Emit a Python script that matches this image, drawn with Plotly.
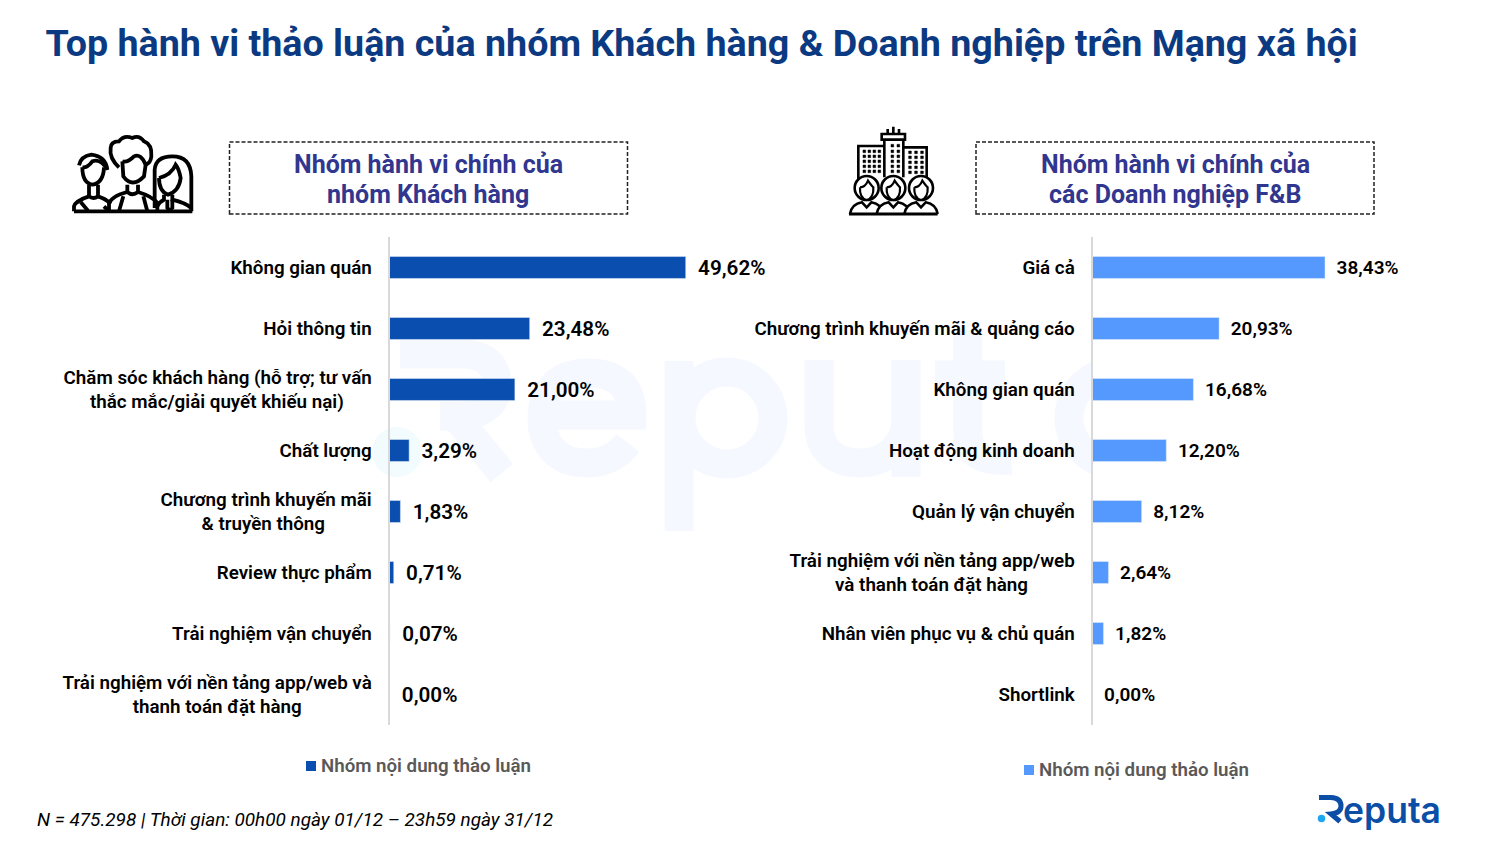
import plotly.graph_objects as go

W, H = 1500, 844

# plotly right-aligns tick label lines, the trailing nbsp push the short line back to centre
kh_labels = ["Không gian quán", "Hỏi thông tin",
             "Chăm sóc khách hàng (hỗ trợ; tư vấn<br>thắc mắc/giải quyết khiếu nại)" + "\u00a0" * 6,
             "Chất lượng", "Chương trình khuyến mãi<br>& truyền thông" + "\u00a0" * 10, "Review thực phẩm",
             "Trải nghiệm vận chuyển", "Trải nghiệm với nền tảng app/web và<br>thanh toán đặt hàng" + "\u00a0" * 15]
kh_values = [49.62, 23.48, 21.00, 3.29, 1.83, 0.71, 0.07, 0.00]

dn_labels = ["Giá cả", "Chương trình khuyến mãi & quảng cáo", "Không gian quán", "Hoạt động kinh doanh",
             "Quản lý vận chuyển", "Trải nghiệm với nền tảng app/web<br>và thanh toán đặt hàng" + "\u00a0" * 10,
             "Nhân viên phục vụ & chủ quán", "Shortlink"]
dn_values = [38.43, 20.93, 16.68, 12.20, 8.12, 2.64, 1.82, 0.00]

series_name = "Nhóm nội dung thảo luận"
FONT = "Roboto"
BLUE_DARK = "#0a4fb0"
BLUE_LIGHT = "#5599fe"
WM = "#f5f8fe"


def px(x, y):
    return f"{x / W:.5f},{1 - y / H:.5f}"


def path(cmds):
    # cmds: list like ("M", x, y), ("Q", x1, y1, x, y), ("Z",) in page pixels
    out = []
    for c in cmds:
        pts = [px(c[i], c[i + 1]) for i in range(1, len(c), 2)]
        out.append(c[0] + " ".join(pts))
    return " ".join(out)


def stroke(cmds, color="#000000", width=3.0, fill=None):
    return dict(type="path", xref="paper", yref="paper", path=path(cmds), layer="below",
                line=dict(color=color, width=width), fillcolor=fill)


def ring(cx, cy, r):
    k = 0.5523 * r
    return [("M", cx + r, cy), ("C", cx + r, cy + k, cx + k, cy + r, cx, cy + r),
            ("C", cx - k, cy + r, cx - r, cy + k, cx - r, cy),
            ("C", cx - r, cy - k, cx - k, cy - r, cx, cy - r),
            ("C", cx + k, cy - r, cx + r, cy - k, cx + r, cy), ("Z",)]


def zoomed(cmds, ox, oy):
    # icon sketches were measured at 3x from their top-left corner
    res = []
    for c in cmds:
        vals = [ox + v / 3 if i % 2 == 0 else oy + v / 3 for i, v in enumerate(c[1:])]
        res.append((c[0], *vals))
    return res


shapes = []

# watermark behind the bars
wm_w = 29
wm = [
    ([("M", 400, 354), ("L", 465, 354), ("Q", 497, 356, 497, 385), ("Q", 497, 412, 462, 416), ("L", 440, 416)], WM),
    ([("M", 455, 416), ("L", 502, 473)], WM),
    ([("M", 542, 415), ("L", 632, 415), ("C", 632, 385, 615, 373, 587, 373), ("C", 555, 373, 542, 395, 542, 418),
      ("C", 542, 445, 558, 463, 587, 463), ("C", 605, 463, 618, 456, 628, 443)], WM),
    ([("M", 679, 361), ("L", 679, 531)], WM),
    (ring(727, 418, 46), WM),
    ([("M", 819, 360), ("L", 819, 425), ("C", 819, 450, 835, 463, 860, 463), ("C", 885, 463, 906, 445, 906, 420),
      ("L", 906, 360), ("L", 906, 477)], WM),
    ([("M", 968, 330), ("L", 968, 435), ("C", 968, 455, 985, 462, 1011, 460)], WM),
    ([("M", 935, 375), ("L", 1005, 375)], WM),
    (ring(1115, 418, 46), WM),
]
for cmds, col in wm:
    shapes.append(stroke(cmds, col, wm_w))
shapes.append(stroke(ring(397, 452, 13), "#f2fcfe", 24))
shapes.append(dict(type="rect", xref="paper", yref="paper", x0=1092.5 / W, x1=1.0, y0=0.1, y1=0.8, layer="below",
                   fillcolor="white", line=dict(width=0)))

# dashed heading boxes
for x0, x1 in [(229.5, 627.5), (976, 1374)]:
    shapes.append(dict(type="rect", xref="paper", yref="paper", x0=x0 / W, x1=x1 / W, y0=1 - 214 / H, y1=1 - 142 / H,
                       layer="below", line=dict(color="#222222", width=1.5, dash="4px,2px")))

# customers icon
people = [
    [("M", 30, 250), ("L", 385, 250)],
    [("M", 55, 118), ("Q", 55, 165, 85, 170), ("Q", 118, 165, 120, 118)],
    [("M", 45, 112), ("Q", 50, 85, 82, 80), ("Q", 125, 85, 130, 125), ("Q", 110, 90, 85, 100), ("Q", 70, 120, 55, 118)],
    [("M", 75, 170), ("L", 75, 205), ("Q", 88, 215, 102, 205), ("L", 102, 170)],
    [("M", 30, 250), ("L", 30, 235), ("Q", 35, 218, 75, 205), ("M", 102, 205), ("Q", 125, 212, 137, 225)],
    [("M", 50, 222), ("L", 72, 248), ("M", 135, 250), ("L", 120, 235)],
    [("M", 165, 118), ("Q", 135, 90, 140, 60), ("Q", 140, 40, 165, 40), ("Q", 180, 20, 205, 30), ("Q", 225, 20, 240, 40),
     ("Q", 265, 50, 262, 85), ("Q", 260, 105, 245, 110), ("Q", 230, 75, 210, 85), ("Q", 190, 105, 175, 100)],
    [("M", 175, 100), ("L", 178, 145), ("Q", 205, 182, 240, 145), ("L", 245, 110)],
    [("M", 190, 170), ("L", 190, 192), ("Q", 205, 205, 222, 192), ("L", 222, 170)],
    [("M", 135, 250), ("L", 135, 228), ("Q", 140, 205, 190, 192), ("M", 222, 192), ("Q", 265, 205, 280, 225), ("L", 280, 250)],
    [("M", 178, 205), ("L", 165, 250), ("M", 238, 205), ("L", 250, 250)],
    [("M", 272, 240), ("L", 272, 125), ("Q", 275, 85, 325, 85), ("Q", 380, 85, 382, 145), ("L", 382, 250)],
    [("M", 285, 150), ("Q", 285, 190, 312, 200), ("Q", 345, 190, 350, 150), ("Q", 345, 122, 335, 110), ("Q", 322, 140, 285, 150)],
    [("M", 300, 200), ("L", 300, 215), ("Q", 285, 222, 280, 235), ("M", 325, 200), ("L", 325, 215), ("Q", 365, 225, 382, 240)],
    [("M", 310, 215), ("L", 310, 240), ("Q", 318, 250, 325, 240), ("L", 325, 215)],
]
for p in people:
    shapes.append(stroke(zoomed(p, 64, 128), "#000000", 3.8))

# company icon
city = [
    [("M", 145, 8), ("L", 145, 30), ("M", 128, 15), ("L", 128, 30), ("M", 162, 15), ("L", 162, 30)],
    [("M", 110, 47), ("L", 110, 30), ("L", 180, 30), ("L", 180, 47), ("Z",)],
    [("M", 118, 47), ("L", 118, 160), ("M", 175, 47), ("L", 175, 160)],
    [("M", 118, 66), ("L", 40, 66), ("L", 40, 170), ("M", 175, 70), ("L", 245, 70), ("L", 245, 165)],
]
for p in city:
    shapes.append(stroke(zoomed(p, 845, 124), "#000000", 2.6))
for xs, ys in [((58, 73, 88, 103), (82, 97, 112, 127, 142)), ((142, 160), (65, 82, 97, 112, 127, 142)),
               ((195, 213, 231), (85, 100, 115, 130, 145))]:
    for wx in xs:
        for wy in ys:
            shapes.append(stroke(zoomed([("M", wx - 4, wy - 4), ("L", wx + 4, wy - 4), ("L", wx + 4, wy + 4), ("L", wx - 4, wy + 4), ("Z",)], 845, 124),
                                 "#000000", 0.5, "#000000"))
for cx in (65, 145, 228):
    shapes.append(stroke(zoomed(ring(cx, 192, 36), 845, 124), "#000000", 2.6, "white"))
    shapes.append(stroke(zoomed([("M", cx - 20, 190), ("Q", cx - 4, 190, cx + 4, 170), ("Q", cx + 14, 185, cx + 20, 190),
                                 ("Q", cx + 22, 222, cx, 228), ("Q", cx - 22, 222, cx - 20, 190)], 845, 124), "#000000", 2.2, "white"))
    shapes.append(stroke(zoomed([("M", cx - 50, 270), ("Q", cx - 45, 240, cx - 14, 235), ("L", cx, 250), ("L", cx + 14, 235),
                                 ("Q", cx + 45, 240, cx + 50, 270)], 845, 124), "#000000", 2.6, "white"))
shapes.append(stroke(zoomed([("M", 12, 270), ("L", 278, 270)], 845, 124), "#000000", 3))

# logo
LOGO = "#0b4ea6"
shapes.append(stroke([("M", 1319, 797.5), ("L", 1331, 797.5), ("Q", 1341, 798, 1341, 806), ("Q", 1341, 813, 1331, 814), ("L", 1340, 821.5)], LOGO, 5))
shapes.append(stroke(ring(1321.5, 818.5, 2), "#1ea7f0", 3.5, "#1ea7f0"))

# legend keys: the gap to the text is narrower than a plotly legend allows
for kx, ky, col in [(306, 766, BLUE_DARK), (1024, 770, BLUE_LIGHT)]:
    shapes.append(dict(type="rect", xref="paper", yref="paper", x0=kx / W, x1=(kx + 10) / W,
                       y0=1 - (ky + 5) / H, y1=1 - (ky - 5) / H, fillcolor=col, line=dict(width=0), layer="below"))

fig = go.Figure()
fig.add_trace(go.Bar(x=kh_values, y=kh_labels, orientation="h", name=series_name, marker_color=BLUE_DARK,
                     texttemplate="\u00a0\u2009%{x:.2f}%", textposition="outside", cliponaxis=False, constraintext="none",
                     textfont=dict(family=FONT, size=20.7, color="#000000", weight=600),
                     xaxis="x", yaxis="y", hoverinfo="x+y"))
fig.add_trace(go.Bar(x=dn_values, y=dn_labels, orientation="h", name=series_name, marker_color=BLUE_LIGHT,
                     texttemplate="\u00a0\u2009%{x:.2f}%", textposition="outside", cliponaxis=False, constraintext="none",
                     textfont=dict(family=FONT, size=19, color="#000000", weight=600),
                     xaxis="x2", yaxis="y2", hoverinfo="x+y"))

y_dom = [1 - 725 / H, 1 - 237 / H]
tick = dict(family=FONT, size=18.8, color="#000000", weight=600)
legend_font = dict(family=FONT, size=18.7, color="#595959", weight=600)

# heading lines sit closer than plotly's line height, so one annotation per line
heading_lines = [(428, 164, "Nhóm hành vi chính của"), (428, 194, "nhóm Khách hàng"),
                 (1175, 164, "Nhóm hành vi chính của"), (1175, 194, "các Doanh nghiệp F&B")]
annotations = []
for hx, hy, txt in heading_lines:
    annotations.append(dict(x=hx / W, y=1 - hy / H, text=txt, xref="paper", yref="paper", showarrow=False,
                            xanchor="center", yanchor="middle",
                            font=dict(family=FONT, size=25, color="#31368f", weight=700)))
annotations.append(dict(x=35 / W, y=1 - 819 / H, xref="paper", yref="paper", showarrow=False, xanchor="left", yanchor="middle",
                        text="N = 475.298 | Thời gian: 00h00 ngày 01/12 – 23h59 ngày 31/12",
                        font=dict(family=FONT, size=18.95, color="#000000", style="italic")))
annotations.append(dict(x=1341 / W, y=1 - 810 / H, xref="paper", yref="paper", showarrow=False, xanchor="left", yanchor="middle",
                        text="eputa", font=dict(family="Inter", size=35.5, color=LOGO, weight=600)))
for lx, ly in [(319, 766), (1037, 770)]:
    annotations.append(dict(x=lx / W, y=1 - ly / H, xref="paper", yref="paper", showarrow=False, xanchor="left", yanchor="middle",
                            text=series_name, font=legend_font))

fig.update_layout(
    width=W, height=H, margin=dict(l=0, r=0, t=0, b=0),
    paper_bgcolor="white", plot_bgcolor="rgba(0,0,0,0)", separators=",.",
    barmode="group", bargap=0.64, showlegend=False,
    title=dict(text="<b>Top hành vi thảo luận của nhóm Khách hàng & Doanh nghiệp trên Mạng xã hội</b>",
               x=45.5 / W, xanchor="left", y=1 - 43 / H, yanchor="middle",
               font=dict(family=FONT, size=37.65, color="#0b3a82")),
    xaxis=dict(domain=[389.5 / W, 760 / W], range=[0, 370.5 / 5.97], visible=False, fixedrange=True),
    yaxis=dict(domain=y_dom, anchor="x", autorange=False, range=[7.5, -0.5], categoryorder="array", categoryarray=kh_labels,
               showline=True, linecolor="#d9d9d9", linewidth=2, ticks="", ticklabelstandoff=12, tickfont=tick, showgrid=False),
    xaxis2=dict(domain=[1092.5 / W, 1480 / W], range=[0, 387.5 / 6.05], visible=False, fixedrange=True),
    yaxis2=dict(domain=y_dom, anchor="x2", autorange=False, range=[7.5, -0.5], categoryorder="array", categoryarray=dn_labels,
                showline=True, linecolor="#d9d9d9", linewidth=2, ticks="", ticklabelstandoff=12, tickfont=tick, showgrid=False),
    shapes=shapes, annotations=annotations,
)

fig.write_html("out.html", config={"displayModeBar": False},
               post_script="document.body.style.margin='0';document.body.style.overflow='hidden';")
